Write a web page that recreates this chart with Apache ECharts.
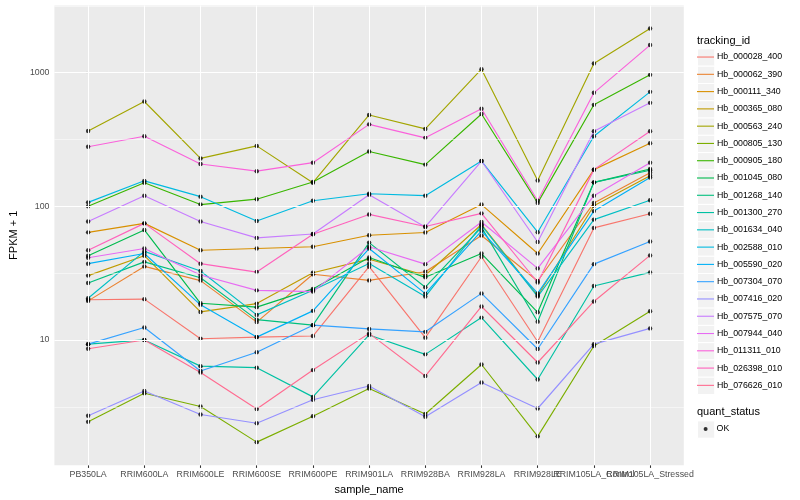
<!DOCTYPE html>
<html><head><meta charset="utf-8">
<script src="https://cdn.jsdelivr.net/npm/echarts@6/dist/echarts.min.js"></script>
<style>html,body{margin:0;padding:0;background:#fff}#c{width:800px;height:500px}</style>
</head><body><div id="c"></div>
<script>
const categories = ['PB350LA','RRIM600LA','RRIM600LE','RRIM600SE','RRIM600PE','RRIM901LA','RRIM928BA','RRIM928LA','RRIM928LE','RRIM105LA_Control','RRIM105LA_Stressed'];
const trackingIds = ['Hb_000028_400','Hb_000062_390','Hb_000111_340','Hb_000365_080','Hb_000563_240','Hb_000805_130','Hb_000905_180','Hb_001045_080','Hb_001268_140','Hb_001300_270','Hb_001634_040','Hb_002588_010','Hb_005590_020','Hb_007304_070','Hb_007416_020','Hb_007575_070','Hb_007944_040','Hb_011311_010','Hb_026398_010','Hb_076626_010'];
const colors = ['#F8766D','#EA8331','#D89000','#C09B00','#A3A500','#7CAE00','#39B600','#00BB4E','#00BF7D','#00C1A3','#00BFC4','#00BAE0','#00B0F6','#35A2FF','#9590FF','#C77CFF','#E76BF3','#FA62DB','#FF62BC','#FF6C91'];

const Hb_000028_400 = [20, 20.2, 10.2, 10.5, 10.7, 35.3, 10.4, 41.9, 9.7, 68.9, 88];
const Hb_000062_390 = [19.6, 35.5, 27.8, 13.6, 31.0, 27.9, 32.4, 60.4, 27.6, 106, 178];
const Hb_000111_340 = [63.8, 74.5, 46.9, 48.3, 49.8, 60.7, 63.6, 103, 44.3, 188, 296];
const Hb_000365_080 = [30.3, 42.7, 16.2, 18.7, 31.8, 40.2, 30.5, 73, 21.5, 101, 169];
const Hb_000563_240 = [366, 608, 228, 283, 150, 482, 379, 1060, 156, 1172, 2140];
const Hb_000805_130 = [2.44, 3.99, 3.18, 1.72, 2.69, 4.33, 2.79, 6.55, 1.90, 9.0, 16.4];
const Hb_000905_180 = [100, 150, 103, 113, 152, 257, 205, 490, 106, 574, 962];
const Hb_001045_080 = [42.7, 66.5, 18.8, 17.6, 24.1, 41.4, 29.4, 44.3, 16.1, 151, 190];
const Hb_001268_140 = [26.7, 38.4, 29.2, 14.2, 12.9, 53.5, 24.8, 69.5, 13.7, 151, 186];
const Hb_001300_270 = [9.3, 10, 6.37, 6.2, 3.75, 10.9, 7.8, 14.7, 5.06, 25.3, 32];
const Hb_001634_040 = [20.5, 46, 32.8, 15.4, 23.5, 37.3, 21.1, 72, 21.1, 79.5, 111];
const Hb_002588_010 = [107, 155, 118, 77.6, 110, 124, 120, 218, 64, 334, 718];
const Hb_005590_020 = [37.2, 44.3, 18.3, 10.5, 16.5, 48.3, 22.2, 65.5, 22.3, 92, 164];
const Hb_007304_070 = [9.3, 12.4, 5.85, 8.1, 12.9, 12.1, 11.5, 22.3, 8.56, 36.9, 54.5];
const Hb_007416_020 = [2.71, 4.15, 2.77, 2.38, 3.57, 4.52, 2.66, 4.81, 3.07, 9.3, 12.2];
const Hb_007575_070 = [77, 120, 77, 58, 62, 122, 70, 218, 54, 364, 594];
const Hb_007944_040 = [41.2, 48.3, 30.6, 23.5, 23.0, 49.8, 36.9, 76.2, 34.3, 120, 212];
const Hb_011311_010 = [279, 334, 207, 183, 212, 410, 325, 537, 110, 706, 1607];
const Hb_026398_010 = [46.9, 74.5, 37.2, 32.2, 61.7, 86.9, 70.6, 88.5, 26.9, 188, 364];
const Hb_076626_010 = [8.6, 10, 5.7, 3.04, 5.95, 11.2, 5.37, 17.8, 6.78, 19.4, 42.9];

const seriesValues = [Hb_000028_400,Hb_000062_390,Hb_000111_340,Hb_000365_080,Hb_000563_240,Hb_000805_130,Hb_000905_180,Hb_001045_080,Hb_001268_140,Hb_001300_270,Hb_001634_040,Hb_002588_010,Hb_005590_020,Hb_007304_070,Hb_007416_020,Hb_007575_070,Hb_007944_040,Hb_011311_010,Hb_026398_010,Hb_076626_010];

const yTicks = [10, 100, 1000];
const yMinorBreaks = [3.1623, 31.623, 316.23, 3162.3];
const quantStatus = ['OK'];

const FONT = '"Liberation Sans", Arial, Helvetica, sans-serif';
const catIdx = categories.map((c, i) => i);
// labels split across two overlaid axes so overlapping neighbours are both drawn (as in the reference)
const labelIdxA = catIdx.filter(i => i % 2 === 0);
const labelIdxB = catIdx.filter(i => i % 2 === 1);

const gridLines = [];
catIdx.forEach(i => gridLines.push({ xAxis: i, lineStyle: { color: '#fff', width: 1.07, type: 'solid' } }));
yTicks.forEach(v => gridLines.push({ yAxis: v, lineStyle: { color: '#fff', width: 1.07, type: 'solid' } }));
yMinorBreaks.forEach(v => gridLines.push({ yAxis: v, lineStyle: { color: '#fff', width: 0.53, type: 'solid' } }));

const series = [{
  type: 'line', name: '__grid', data: [], z: 1, silent: true,
  markLine: { silent: true, symbol: ['none', 'none'], label: { show: false }, animation: false,
    emphasis: { disabled: true }, data: gridLines }
}];
trackingIds.forEach((id, i) => {
  series.push({
    type: 'line', name: id, color: colors[i], symbol: 'none', z: 2,
    lineStyle: { width: 1.15, color: colors[i] },
    emphasis: { disabled: true },
    data: seriesValues[i].map((v, j) => [j, v])
  });
});
const okPoints = [];
seriesValues.forEach(arr => arr.forEach((v, j) => okPoints.push([j, v])));
series.push({
  type: 'scatter', name: quantStatus[0], symbol: 'circle', symbolSize: 4.4, z: 3,
  itemStyle: { color: '#000' }, emphasis: { disabled: true }, data: okPoints
});

const graphics = [];
const keyH = 17.28, keyTop = 48.4, keyLeft = 697;
trackingIds.forEach((id, i) => {
  graphics.push({ type: 'rect', left: keyLeft, top: keyTop + i * keyH, z: -1, silent: true,
    shape: { width: keyH, height: keyH }, style: { fill: '#F2F2F2', stroke: '#fff', lineWidth: 1 } });
});
graphics.push({ type: 'rect', left: keyLeft, top: 420.4, z: -1, silent: true,
  shape: { width: keyH, height: keyH }, style: { fill: '#F2F2F2', stroke: '#fff', lineWidth: 1 } });

const xLabelStyle = { formatter: v => categories[Math.round(v)], margin: 4.95, fontSize: 8.8, color: '#4D4D4D', fontFamily: FONT, hideOverlap: false, showMinLabel: true, showMaxLabel: true };

const chart = echarts.init(document.getElementById('c'), null, { renderer: 'canvas' });
chart.setOption({
  animation: false,
  backgroundColor: '#fff',
  textStyle: { fontFamily: FONT },
  title: [
    { text: 'tracking_id', left: 697, top: 34, padding: 0, textStyle: { fontSize: 11, fontWeight: 'normal', color: '#000', fontFamily: FONT, lineHeight: 13 } },
    { text: 'quant_status', left: 697, top: 405.5, padding: 0, textStyle: { fontSize: 11, fontWeight: 'normal', color: '#000', fontFamily: FONT, lineHeight: 13 } }
  ],
  graphic: graphics,
  grid: { left: 45.4, right: 116.2, top: 5.5, bottom: 32, show: true, backgroundColor: '#EBEBEB', borderWidth: 0, containLabel: false },
  legend: [
    { data: trackingIds, orient: 'vertical', left: 697, top: keyTop, padding: 0, itemGap: 0,
      icon: 'rect', itemWidth: 17, itemHeight: 1.1, selectedMode: false,
      textStyle: { fontSize: 8.8, color: '#000', fontFamily: FONT, lineHeight: keyH, padding: [0, 0, 0, -2] } },
    { data: quantStatus, orient: 'vertical', left: 703.6, top: 420.4, padding: 0, itemGap: 0,
      icon: 'circle', itemWidth: 4, itemHeight: 4, selectedMode: false,
      textStyle: { fontSize: 8.8, color: '#000', fontFamily: FONT, lineHeight: keyH, padding: [0, 0, 0, 4] } }
  ],
  xAxis: [{
    type: 'value', min: -0.6, max: 10.6, position: 'bottom',
    name: 'sample_name', nameLocation: 'middle', nameGap: 15,
    nameTextStyle: { fontSize: 11, color: '#000', fontFamily: FONT },
    axisLine: { show: false },
    axisTick: { show: true, customValues: catIdx, length: 2.75, lineStyle: { color: '#333333', width: 1.07 } },
    axisLabel: Object.assign({ customValues: labelIdxA }, xLabelStyle),
    splitLine: { show: false }
  }, {
    type: 'value', min: -0.6, max: 10.6, position: 'bottom', offset: 0,
    axisLine: { show: false },
    axisTick: { show: false },
    axisLabel: Object.assign({ customValues: labelIdxB }, xLabelStyle),
    splitLine: { show: false }
  }],
  yAxis: {
    type: 'log', logBase: 10, min: 1.157, max: 3177,
    name: 'FPKM + 1', nameLocation: 'middle', nameGap: 26,
    nameTextStyle: { fontSize: 11, color: '#000', fontFamily: FONT },
    axisLine: { show: false },
    axisTick: { show: true, customValues: yTicks, length: 2.75, lineStyle: { color: '#333333', width: 1.07 } },
    axisLabel: { customValues: yTicks, formatter: v => String(Math.round(v)), margin: 4.95, fontSize: 8.8, color: '#4D4D4D', fontFamily: FONT, showMinLabel: true, showMaxLabel: true },
    splitLine: { show: false }
  },
  series: series
});
</script></body></html>
